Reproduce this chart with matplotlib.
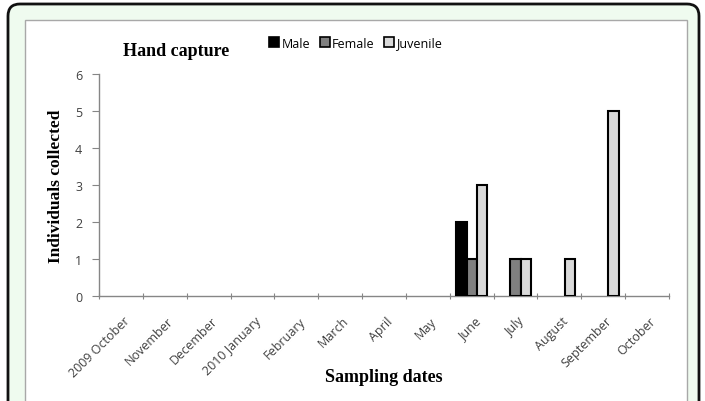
import matplotlib
matplotlib.use("Agg")
import matplotlib.pyplot as plt
import numpy as np
from matplotlib.patches import FancyBboxPatch, Rectangle, Patch
from matplotlib.transforms import IdentityTransform

months = ["2009 October", "November", "December", "2010 January", "February",
          "March", "April", "May", "June", "July", "August", "September", "October"]
male = [0, 0, 0, 0, 0, 0, 0, 0, 2, 0, 0, 0, 0]
female = [0, 0, 0, 0, 0, 0, 0, 0, 1, 1, 0, 0, 0]
juvenile = [0, 0, 0, 0, 0, 0, 0, 0, 3, 1, 1, 5, 0]
series = [("Male", male, "#000000"), ("Female", female, "#808080"), ("Juvenile", juvenile, "#d9d9d9")]

fig = plt.figure(figsize=(7.05, 4.02), dpi=100, facecolor="white")

# outer rounded frame + inner white panel (pixel coords)
ident = IdentityTransform()
fig.patches.append(FancyBboxPatch((8, -30), 691, 427, boxstyle="round,pad=0,rounding_size=12",
                                  transform=ident, facecolor="#effbef", edgecolor="#111111",
                                  linewidth=2, figure=fig, zorder=-10))
fig.patches.append(Rectangle((25, -10), 662, 391, transform=ident, facecolor="white",
                             edgecolor="#a8a8a8", linewidth=1, figure=fig, zorder=-9))

ax = fig.add_axes([99 / 705, 1 - 297 / 402, 570 / 705, 222 / 402])
ax.set_facecolor("none")

x = np.arange(len(months))
w = 0.235
handles = []
for i, (name, vals, col) in enumerate(series):
    vals = np.array(vals)
    lws = [1.5 if v > 0 else 0 for v in vals]
    ax.bar(x + (i - 1) * w, vals, w, color=col, edgecolor="black", linewidth=lws, zorder=3)
    handles.append(Patch(facecolor=col, edgecolor="black", linewidth=1.2, label=name))

ax.set_xlim(-0.5, len(months) - 0.5)
ax.set_ylim(0, 6)
ax.set_yticks(range(0, 7))
ax.set_xticks(np.arange(-0.5, len(months)), [])
ax.set_xticks(x + 0.05, months, minor=True)
ax.tick_params(axis="x", which="major", length=4, direction="inout", color="#868686")
ax.tick_params(axis="x", which="minor", length=0, pad=13)
ax.tick_params(axis="y", length=5, direction="out", color="#868686", labelcolor="#404040",
               labelsize=9, pad=7)
for lab in ax.get_xticklabels(minor=True):
    lab.set_rotation(45)
    lab.set_ha("right")
    lab.set_rotation_mode("anchor")
    lab.set_fontsize(9)
    lab.set_color("#404040")
    lab.set_family("Open Sans")
for lab in ax.get_yticklabels():
    lab.set_family("Open Sans")

for s in ["top", "right"]:
    ax.spines[s].set_visible(False)
for s in ["left", "bottom"]:
    ax.spines[s].set_color("#868686")
    ax.spines[s].set_linewidth(1)

ax.set_ylabel("Individuals collected", family="Liberation Serif", fontweight="bold",
              fontsize=12.5)
ax.yaxis.set_label_coords(-35 / 570, 0.5)

fig.text(123 / 705, 1 - 51 / 402, "Hand capture", family="Liberation Serif",
         fontweight="bold", fontsize=13, ha="left", va="center")
fig.text(384 / 705, 1 - 378 / 402, "Sampling dates", family="Liberation Serif",
         fontweight="bold", fontsize=13, ha="center", va="center")

fig.legend(handles=handles, loc="center left", bbox_to_anchor=(269 / 705, 1 - 44 / 402),
           ncol=3, frameon=False, borderpad=0, borderaxespad=0, handlelength=0.8,
           handleheight=0.8, handletextpad=0.2, columnspacing=0.75,
           prop={"family": "Open Sans", "size": 9})

fig.savefig("out.png", dpi=100)
